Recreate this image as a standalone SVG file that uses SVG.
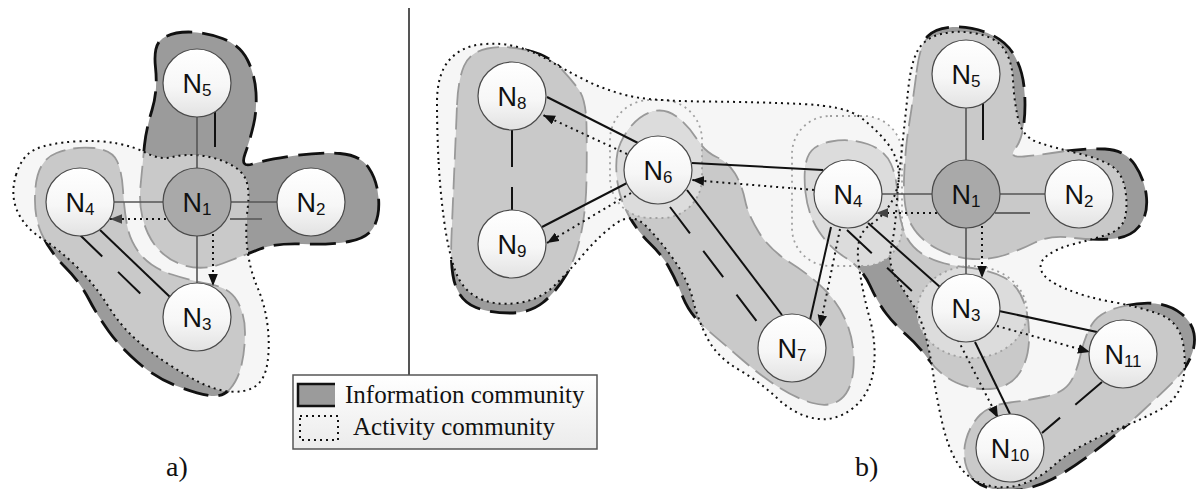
<svg xmlns="http://www.w3.org/2000/svg" xmlns:xlink="http://www.w3.org/1999/xlink" width="1198" height="489" viewBox="0 0 1198 489">
<style>
.dark{fill:#9b9b9b;stroke:#111;stroke-width:2.8;stroke-dasharray:26 10}
.actfill{fill:#f6f6f6;stroke:none}
.light{fill:#c9c9c9;stroke:none}
.lstroke{fill:none;stroke:#999;stroke-width:1.8;stroke-dasharray:22 8}
.dots{fill:none;stroke:#111;stroke-width:2;stroke-dasharray:2 4}
.gdots{fill:none;stroke:#a0a0a0;stroke-width:1.8;stroke-dasharray:2 4}
.halo{fill:#dcdcdc;stroke:none}
.glink{stroke:#555;stroke-width:1.6;fill:none}
.blink{stroke:#111;stroke-width:2;fill:none}
.dlink{stroke:#111;stroke-width:2;fill:none}
.alink{stroke:#111;stroke-width:2;fill:none;stroke-dasharray:2 4}
.node{fill:url(#ng);stroke:#4a4a4a;stroke-width:1.2}
.hub{fill:#a9a9a9;stroke:#4a4a4a;stroke-width:1.2}
.lbl{font-family:"Liberation Sans",Arial,sans-serif;font-size:27px;fill:#111;text-anchor:middle}
.sub{font-size:17px}
.lg{font-family:"Liberation Serif","Times New Roman",serif;font-size:25px;fill:#111}
.cap{font-family:"Liberation Serif","Times New Roman",serif;font-size:28px;fill:#111}
</style>
<defs>
<linearGradient id="ng" x1="0" y1="0" x2="0" y2="1">
<stop offset="0" stop-color="#ffffff"/><stop offset="0.55" stop-color="#f7f7f7"/><stop offset="1" stop-color="#e2e2e2"/>
</linearGradient>
<linearGradient id="lgg" x1="0" y1="0" x2="0" y2="1">
<stop offset="0" stop-color="#ffffff"/><stop offset="1" stop-color="#ebebeb"/>
</linearGradient>
<marker id="ah" viewBox="0 0 10 8" refX="10" refY="4" markerWidth="12" markerHeight="10" markerUnits="userSpaceOnUse" orient="auto"><path d="M0,0 L10,4 L0,8 Z" fill="#111"/></marker>
<marker id="ahg" viewBox="0 0 10 8" refX="10" refY="4" markerWidth="12" markerHeight="10" markerUnits="userSpaceOnUse" orient="auto"><path d="M0,0 L10,4 L0,8 Z" fill="#444"/></marker>
<path id="actL" d="M16,175 Q22,155 36,149 Q50,143 75,141.5 Q100,140 117.5,143.5 Q135,147 147.5,153.5 Q160,160 172.5,157 Q185,154 200,155.5 Q215,157 228.5,163.5 Q242,170 246,180 Q250,190 247.5,210 Q245,230 247.5,250 Q250,270 257.5,287.5 Q265,305 267.5,325 Q270,345 267.5,362.5 Q265,380 255,386.5 Q245,393 230,391.5 Q215,390 200,382.5 Q185,375 167.5,363.5 Q150,352 135,338.5 Q120,325 107.5,305 Q95,285 77.5,267.5 Q60,250 42.5,239 Q25,228 17.5,211.5 Q10,195 16,175 Z"/>
<path id="iLA" d="M155.5,67.5 Q153,45 162.5,38.5 Q172,32 188.5,32 Q205,32 222.5,38.5 Q240,45 247.5,60 Q255,75 256,92.5 Q257,110 253.5,125 Q250,140 245,154 Q240,168 252.5,164 Q265,160 292.5,156 Q320,152 340,153.5 Q360,155 368.5,167.5 Q377,180 378.5,197.5 Q380,215 374,226.5 Q368,238 349,241.5 Q330,245 302.5,244 Q275,243 260,249 Q245,255 222.5,263.5 Q200,272 179,263.5 Q158,255 148,233.5 Q138,212 140.5,186 Q143,160 144.5,145 Q146,130 152,110 Q158,90 155.5,67.5 Z"/>
<path id="iLB" d="M35.5,187.5 Q38,160 56.5,153 Q75,146 93.5,148 Q112,150 117,161 Q122,172 123,190 Q124,208 127,225 Q130,242 141,255 Q152,268 172,274.5 Q192,281 211,284.5 Q230,288 237.5,301.5 Q245,315 245,332.5 Q245,350 241.5,365 Q238,380 230,389 Q222,398 208.5,395.5 Q195,393 175.5,385.5 Q156,378 138,362.5 Q120,347 108.5,331 Q97,315 88.5,298.5 Q80,282 65,267 Q50,252 41.5,233.5 Q33,215 35.5,187.5 Z"/>
<path id="actR1" d="M438.5,160 Q437,130 437,102.5 Q437,75 448.5,61 Q460,47 480,44.5 Q500,42 517.5,47 Q535,52 550,61 Q565,70 585,80 Q605,90 627.5,95.5 Q650,101 705,101.5 Q760,102 802.5,104 Q845,106 860,117 Q875,128 886,141.5 Q897,155 898.5,170 Q900,185 892.5,200 Q885,215 870,225 Q855,235 858.5,262.5 Q862,290 869.5,317.5 Q877,345 873.5,370 Q870,395 852.5,408.5 Q835,422 815,418.5 Q795,415 777.5,398.5 Q760,382 738.5,369.5 Q717,357 707.5,338.5 Q698,320 693,300 Q688,280 674,260 Q660,240 646,226 Q632,212 616,223.5 Q600,235 585,252.5 Q570,270 555,285 Q540,300 517.5,303 Q495,306 478.5,298 Q462,290 455,270 Q448,250 444,220 Q440,190 438.5,160 Z"/>
<path id="actR2" d="M901.5,152.5 Q905,120 908,91 Q911,62 918,50 Q925,38 941,34 Q957,30 976,33.5 Q995,37 1003.5,48.5 Q1012,60 1013,80 Q1014,100 1018,118.5 Q1022,137 1038.5,142.5 Q1055,148 1076.5,153 Q1098,158 1110,165 Q1122,172 1125,188.5 Q1128,205 1125,217.5 Q1122,230 1106,235 Q1090,240 1074,244 Q1058,248 1048,255 Q1038,262 1041.5,271 Q1045,280 1065,288.5 Q1085,297 1112.5,302 Q1140,307 1160,314.5 Q1180,322 1183.5,346 Q1187,370 1181,386 Q1175,402 1157.5,411 Q1140,420 1120,428 Q1100,436 1082.5,445.5 Q1065,455 1052.5,466.5 Q1040,478 1022.5,484 Q1005,490 986.5,485 Q968,480 958,464 Q948,448 942.5,424 Q937,400 933.5,376 Q930,352 925,333.5 Q920,315 910,300 Q900,285 894,273.5 Q888,262 891.5,246 Q895,230 896.5,207.5 Q898,185 901.5,152.5 Z"/>
<rect id="g1" x="792" y="116" width="110" height="150" rx="38"/>
<ellipse id="g2" cx="972" cy="312" rx="55" ry="46"/>
<rect id="g3" x="610" y="100" width="92" height="118" rx="40"/>
<path id="iR1" d="M457,105 Q458,80 464,66 Q470,52 487.5,48.5 Q505,45 526.5,50 Q548,55 560,67.5 Q572,80 579,90 Q586,100 586.5,125 Q587,150 586.5,180 Q586,210 581,234 Q576,258 566,275 Q556,292 543,302.5 Q530,313 510,313 Q490,313 476,307.5 Q462,302 456,287 Q450,272 451.5,236 Q453,200 454.5,165 Q456,130 457,105 Z"/>
<path id="iR2" d="M617.5,152.5 Q620,140 630,127.5 Q640,115 652.5,111.5 Q665,108 676.5,116.5 Q688,125 696.5,138.5 Q705,152 716.5,157 Q728,162 735,173.5 Q742,185 745,200 Q748,215 759,232.5 Q770,250 790,262.5 Q810,275 825,290 Q840,305 847.5,325 Q855,345 853.5,367.5 Q852,390 841,399 Q830,408 812.5,403 Q795,398 777.5,386.5 Q760,375 742.5,360 Q725,345 707.5,330 Q690,315 683,297.5 Q676,280 669,267.5 Q662,255 650,243.5 Q638,232 629,216 Q620,200 617.5,182.5 Q615,165 617.5,152.5 Z"/>
<path id="iR3" d="M916.5,72.5 Q920,45 927.5,36.5 Q935,28 952.5,27 Q970,26 987.5,33 Q1005,40 1013.5,54 Q1022,68 1024,86.5 Q1026,105 1024,122.5 Q1022,140 1015,149 Q1008,158 1024,156.5 Q1040,155 1062.5,151.5 Q1085,148 1105,149 Q1125,150 1135,165 Q1145,180 1146.5,197.5 Q1148,215 1139,226.5 Q1130,238 1110,239 Q1090,240 1070,237.5 Q1050,235 1035,242.5 Q1020,250 1005,255 Q990,260 972.5,259 Q955,258 937.5,249 Q920,240 911.5,225 Q903,210 904,180 Q905,150 909,125 Q913,100 916.5,72.5 Z"/>
<path id="iR4" d="M805.5,192.5 Q803,170 807.5,157.5 Q812,145 831,141.5 Q850,138 867.5,144 Q885,150 891,164 Q897,178 897.5,195 Q898,212 903,228.5 Q908,245 923,254.5 Q938,264 964,267 Q990,270 1004,277.5 Q1018,285 1024,302.5 Q1030,320 1029,341 Q1028,362 1018,375 Q1008,388 990,389 Q972,390 956,382.5 Q940,375 929,360 Q918,345 906.5,335 Q895,325 886.5,314 Q878,303 870,285.5 Q862,268 846,258 Q830,248 819,231.5 Q808,215 805.5,192.5 Z"/>
<path id="iR5" d="M1080.5,355 Q1085,335 1092.5,323.5 Q1100,312 1120,307 Q1140,302 1155,303.5 Q1170,305 1181,313.5 Q1192,322 1194,333.5 Q1196,345 1190.5,357.5 Q1185,370 1175,380 Q1165,390 1142.5,411 Q1120,432 1095,451 Q1070,470 1052.5,479 Q1035,488 1017.5,490 Q1000,492 986,487 Q972,482 967,468.5 Q962,455 966,440 Q970,425 980,415 Q990,405 1010,402.5 Q1030,400 1046,396.5 Q1062,393 1069,384 Q1076,375 1080.5,355 Z"/>
<clipPath id="cActL"><use xlink:href="#actL"/></clipPath>
<clipPath id="cActR"><use xlink:href="#actR1"/><use xlink:href="#actR2"/><use xlink:href="#g1"/><use xlink:href="#g2"/><use xlink:href="#g3"/></clipPath>
<clipPath id="cIR2"><use xlink:href="#iR2"/></clipPath>
<clipPath id="cIR4"><use xlink:href="#iR4"/></clipPath>
</defs>

<rect width="1198" height="489" fill="#ffffff"/>

<g id="communities-a">
<use xlink:href="#iLA" class="dark"/>
<use xlink:href="#iLB" class="dark"/>
<use xlink:href="#actL" class="actfill"/>
<g clip-path="url(#cActL)">
<use xlink:href="#iLA" class="light"/>
<use xlink:href="#iLB" class="light"/>
<use xlink:href="#iLA" class="lstroke"/>
<use xlink:href="#iLB" class="lstroke"/>
</g>
<use xlink:href="#actL" class="dots"/>
</g>

<g id="communities-b">
<use xlink:href="#iR1" class="dark"/>
<use xlink:href="#iR2" class="dark"/>
<use xlink:href="#iR3" class="dark"/>
<use xlink:href="#iR4" class="dark"/>
<use xlink:href="#iR5" class="dark"/>
<use xlink:href="#actR1" class="actfill"/>
<use xlink:href="#actR2" class="actfill"/>
<use xlink:href="#g1" class="actfill"/>
<use xlink:href="#g2" class="actfill"/>
<use xlink:href="#g3" class="actfill"/>
<g clip-path="url(#cActR)">
<use xlink:href="#iR1" class="light"/>
<use xlink:href="#iR2" class="light"/>
<use xlink:href="#iR3" class="light"/>
<use xlink:href="#iR4" class="light"/>
<use xlink:href="#iR5" class="light"/>
</g>
<use xlink:href="#g3" class="halo" clip-path="url(#cIR2)"/>
<use xlink:href="#g1" class="halo" clip-path="url(#cIR4)"/>
<use xlink:href="#g2" class="halo" clip-path="url(#cIR4)"/>
<g clip-path="url(#cActR)">
<use xlink:href="#iR1" class="lstroke"/>
<use xlink:href="#iR2" class="lstroke"/>
<use xlink:href="#iR3" class="lstroke"/>
<use xlink:href="#iR4" class="lstroke"/>
<use xlink:href="#iR5" class="lstroke"/>
</g>
<use xlink:href="#g1" class="gdots"/>
<use xlink:href="#g2" class="gdots"/>
<use xlink:href="#g3" class="gdots"/>
<use xlink:href="#actR1" class="dots"/>
<use xlink:href="#actR2" class="dots"/>
</g>

<g id="divider"><line x1="409" y1="8" x2="409" y2="375" stroke="#555" stroke-width="2"/></g>

<g id="connectors">
<line class="glink" x1="197" y1="117" x2="197" y2="168"/>
<line class="glink" x1="114" y1="202" x2="163" y2="202"/>
<line class="glink" x1="231" y1="202" x2="277" y2="202"/>
<line class="glink" x1="197" y1="236" x2="197" y2="283"/>
<line class="blink" x1="215" y1="110" x2="215" y2="147"/>
<line stroke="#666" stroke-width="2" x1="230" y1="219" x2="262" y2="219"/>
<line class="alink" x1="166" y1="219" x2="110" y2="219" marker-end="url(#ahg)"/>
<line class="alink" x1="213" y1="234" x2="213" y2="286" marker-end="url(#ah)"/>
<line class="blink" x1="100" y1="230" x2="170" y2="297"/>
<line class="dlink" x1="80" y1="235" x2="147" y2="300" stroke-dasharray="31 22"/>
<line class="glink" x1="966" y1="108" x2="966" y2="160"/>
<line class="glink" x1="882" y1="194" x2="932" y2="194"/>
<line class="glink" x1="1000" y1="194" x2="1045" y2="194"/>
<line class="glink" x1="966" y1="228" x2="966" y2="274"/>
<line class="blink" x1="983" y1="103" x2="983" y2="140"/>
<line stroke="#666" stroke-width="2" x1="995" y1="213" x2="1030" y2="213"/>
<line class="alink" x1="982" y1="226" x2="982" y2="278" marker-end="url(#ah)"/>
<line class="alink" x1="937" y1="213" x2="876" y2="213" marker-end="url(#ahg)"/>
<line class="blink" x1="692" y1="163" x2="823" y2="170"/>
<line class="alink" x1="814" y1="190" x2="692" y2="180" marker-end="url(#ah)"/>
<line class="blink" x1="638" y1="143" x2="547" y2="97"/>
<line class="alink" x1="627" y1="154" x2="543" y2="115" marker-end="url(#ah)"/>
<line class="blink" x1="627" y1="183" x2="542" y2="227"/>
<line class="alink" x1="631" y1="193" x2="547" y2="243" marker-end="url(#ah)"/>
<line class="blink" x1="687" y1="190" x2="782" y2="315"/>
<line class="dlink" x1="670" y1="207" x2="758" y2="323" stroke-dasharray="33 22"/>
<line class="blink" x1="831" y1="227" x2="810" y2="320"/>
<line class="alink" x1="840" y1="229" x2="820" y2="327" marker-end="url(#ah)"/>
<line class="blink" x1="868" y1="223" x2="940" y2="287"/>
<line class="dlink" x1="847" y1="230" x2="913" y2="292" stroke-dasharray="34 21"/>
<line class="dlink" x1="512" y1="130" x2="512" y2="210" stroke-dasharray="37 20"/>
<line class="blink" x1="999" y1="311" x2="1097" y2="332"/>
<line class="alink" x1="997" y1="326" x2="1090" y2="352" marker-end="url(#ah)"/>
<line class="blink" x1="975" y1="342" x2="1010" y2="414"/>
<line class="alink" x1="958" y1="340" x2="998" y2="418" marker-end="url(#ah)"/>
<line class="dlink" x1="1102" y1="382" x2="1042" y2="433" stroke-dasharray="35 20"/>
</g>

<g id="a-N5"><circle class="node" cx="197" cy="83" r="34"/><text class="lbl" x="197" y="93">N<tspan class="sub" dy="3">5</tspan></text></g>
<g id="a-N1"><circle class="hub" cx="197" cy="202" r="34"/><text class="lbl" x="197" y="212">N<tspan class="sub" dy="3">1</tspan></text></g>
<g id="a-N4"><circle class="node" cx="80" cy="202" r="34"/><text class="lbl" x="80" y="212">N<tspan class="sub" dy="3">4</tspan></text></g>
<g id="a-N2"><circle class="node" cx="311" cy="202" r="34"/><text class="lbl" x="311" y="212">N<tspan class="sub" dy="3">2</tspan></text></g>
<g id="a-N3"><circle class="node" cx="197" cy="317" r="34"/><text class="lbl" x="197" y="327">N<tspan class="sub" dy="3">3</tspan></text></g>

<g id="b-N8"><circle class="node" cx="512" cy="96" r="34"/><text class="lbl" x="512" y="106">N<tspan class="sub" dy="3">8</tspan></text></g>
<g id="b-N9"><circle class="node" cx="512" cy="244" r="34"/><text class="lbl" x="512" y="254">N<tspan class="sub" dy="3">9</tspan></text></g>
<g id="b-N6"><circle class="node" cx="658" cy="170" r="34"/><text class="lbl" x="658" y="180">N<tspan class="sub" dy="3">6</tspan></text></g>
<g id="b-N7"><circle class="node" cx="792" cy="348" r="34"/><text class="lbl" x="792" y="358">N<tspan class="sub" dy="3">7</tspan></text></g>
<g id="b-N4"><circle class="node" cx="848" cy="194" r="34"/><text class="lbl" x="848" y="204">N<tspan class="sub" dy="3">4</tspan></text></g>
<g id="b-N5"><circle class="node" cx="966" cy="74" r="34"/><text class="lbl" x="966" y="84">N<tspan class="sub" dy="3">5</tspan></text></g>
<g id="b-N1"><circle class="hub" cx="966" cy="194" r="34"/><text class="lbl" x="966" y="204">N<tspan class="sub" dy="3">1</tspan></text></g>
<g id="b-N2"><circle class="node" cx="1079" cy="194" r="34"/><text class="lbl" x="1079" y="204">N<tspan class="sub" dy="3">2</tspan></text></g>
<g id="b-N3"><circle class="node" cx="966" cy="308" r="34"/><text class="lbl" x="966" y="318">N<tspan class="sub" dy="3">3</tspan></text></g>
<g id="b-N11"><circle class="node" cx="1123" cy="354" r="34"/><text class="lbl" x="1123" y="364">N<tspan class="sub" dy="3">11</tspan></text></g>
<g id="b-N10"><circle class="node" cx="1010" cy="448" r="34"/><text class="lbl" x="1010" y="458">N<tspan class="sub" dy="3">10</tspan></text></g>

<g id="legend">
<rect x="293" y="375" width="304" height="74" fill="url(#lgg)" stroke="#555" stroke-width="1.5"/>
<rect x="298" y="384" width="37" height="22" fill="#9b9b9b"/>
<path d="M335,384 L298,384 L298,406 L335,406" fill="none" stroke="#111" stroke-width="2.5"/>
<text class="lg" x="345" y="403">Information community</text>
<rect x="300" y="416" width="38" height="24" fill="none" class="dots"/>
<text class="lg" x="353" y="435">Activity community</text>
</g>

<text class="cap" x="166" y="476">a)</text>
<text class="cap" x="855" y="476">b)</text>
</svg>
